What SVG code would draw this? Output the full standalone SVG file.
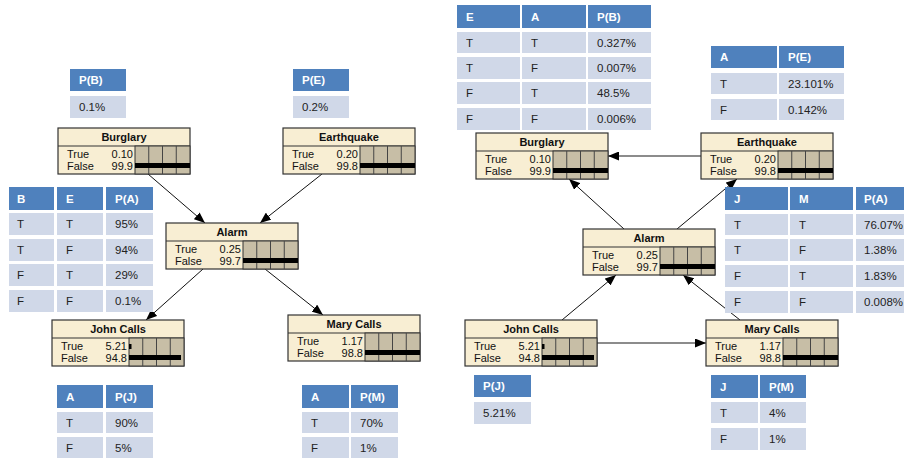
<svg xmlns="http://www.w3.org/2000/svg" width="904" height="459" viewBox="0 0 904 459">
  <style>
    .nb { fill: #F8EED3; stroke: #333; stroke-width: 1.2; }
    .sep { stroke: #333; stroke-width: 1; }
    .bar { fill: #C7BEA6; stroke: #333; stroke-width: 1; }
    .grid { stroke: #444; stroke-width: 1; }
    .fill { fill: #000; }
    .nt { font-family: "Liberation Sans", Arial, sans-serif; font-size: 11px; font-weight: bold; fill: #111; text-anchor: middle; }
    .nl { font-family: "Liberation Sans", Arial, sans-serif; font-size: 11px; fill: #111; }
    .nv { font-family: "Liberation Sans", Arial, sans-serif; font-size: 11px; fill: #111; text-anchor: end; }
    .th { fill: #4F81BD; }
    .td { fill: #D0D8E8; }
    .tht { font-family: "Liberation Sans", Arial, sans-serif; font-size: 11.5px; font-weight: bold; fill: #fff; }
    .tdt { font-family: "Liberation Sans", Arial, sans-serif; font-size: 11.5px; fill: #222; }
    .edge { stroke: #111; stroke-width: 1; fill: none; marker-end: url(#arrow); }
    .edge-g { stroke: #666; stroke-width: 1.5; fill: none; marker-end: url(#arrow); }
  </style>
  <defs>
    <marker id="arrow" markerUnits="userSpaceOnUse" markerWidth="11" markerHeight="9" refX="11" refY="4.5" orient="auto">
      <path d="M0,0 L11,4.5 L0,9 z" fill="#000"/>
    </marker>
    <!-- node frame: title bar, label area and the four-cell bar area -->
    <g id="frame">
      <rect class="nb" x="0" y="0" width="132" height="46"/>
      <line class="sep" x1="0" y1="18" x2="132" y2="18"/>
      <rect class="bar" x="77" y="18" width="55" height="28"/>
      <line class="grid" x1="90.75" y1="18" x2="90.75" y2="46"/>
      <line class="grid" x1="104.5" y1="18" x2="104.5" y2="46"/>
      <line class="grid" x1="118.25" y1="18" x2="118.25" y2="46"/>
      <text class="nl" x="9" y="30">True</text>
      <text class="nl" x="9" y="42">False</text>
    </g>
  </defs>

  <!-- connectors -->
  <g id="connectors">
    <line class="edge" x1="148" y1="174" x2="205" y2="223"/>
    <line class="edge" x1="322" y1="174" x2="260" y2="223"/>
    <line class="edge" x1="203" y1="269" x2="146" y2="320"/>
    <line class="edge" x1="265" y1="269" x2="323" y2="315"/>
    <line class="edge-g" x1="701" y1="156" x2="608" y2="156"/>
    <line class="edge" x1="624" y1="229" x2="569" y2="179"/>
    <line class="edge" x1="677" y1="229" x2="737" y2="179"/>
    <line class="edge" x1="562" y1="320" x2="616" y2="275"/>
    <line class="edge" x1="740" y1="320" x2="683" y2="275"/>
    <line class="edge-g" x1="597" y1="343" x2="706" y2="343"/>
  </g>

  <!-- left network -->
  <g id="burglary-l" transform="translate(58,128)">
    <use href="#frame"/>
    <text class="nt" x="66" y="13">Burglary</text>
    <text class="nv" x="75" y="30">0.10</text>
    <text class="nv" x="75" y="42">99.9</text>
    <rect class="fill" x="77" y="35" width="55" height="5"/>
  </g>
  <g id="earthquake-l" transform="translate(283,128)">
    <use href="#frame"/>
    <text class="nt" x="66" y="13">Earthquake</text>
    <text class="nv" x="75" y="30">0.20</text>
    <text class="nv" x="75" y="42">99.8</text>
    <rect class="fill" x="77" y="35" width="55" height="5"/>
  </g>
  <g id="alarm-l" transform="translate(166,223)">
    <use href="#frame"/>
    <text class="nt" x="66" y="13">Alarm</text>
    <text class="nv" x="75" y="30">0.25</text>
    <text class="nv" x="75" y="42">99.7</text>
    <rect class="fill" x="77" y="35" width="55" height="5"/>
  </g>
  <g id="john-l" transform="translate(52,320)">
    <use href="#frame"/>
    <text class="nt" x="66" y="13">John Calls</text>
    <text class="nv" x="75" y="30">5.21</text>
    <text class="nv" x="75" y="42">94.8</text>
    <rect class="fill" x="77" y="24" width="2.5" height="5"/>
    <rect class="fill" x="77" y="35" width="52" height="5"/>
  </g>
  <g id="mary-l" transform="translate(288,315)">
    <use href="#frame"/>
    <text class="nt" x="66" y="13">Mary Calls</text>
    <text class="nv" x="75" y="30">1.17</text>
    <text class="nv" x="75" y="42">98.8</text>
    <rect class="fill" x="77" y="35" width="55" height="5"/>
  </g>

  <!-- left tables -->
  <g id="table-pb-l">
    <rect class="th" x="70" y="69" width="56" height="22"/>
    <rect class="td" x="70" y="96" width="56" height="22"/>
    <text class="tht" x="79" y="84">P(B)</text>
    <text class="tdt" x="79" y="111">0.1%</text>
  </g>
  <g id="table-pe-l">
    <rect class="th" x="293" y="69" width="56" height="22"/>
    <rect class="td" x="293" y="96" width="56" height="22"/>
    <text class="tht" x="302" y="84">P(E)</text>
    <text class="tdt" x="302" y="111">0.2%</text>
  </g>
  <g id="table-pa-l">
    <rect class="th" x="9" y="187" width="45" height="23"/>
    <rect class="th" x="57" y="187" width="46" height="23"/>
    <rect class="th" x="106" y="187" width="47" height="23"/>
    <text class="tht" x="17" y="203">B</text>
    <text class="tht" x="66" y="203">E</text>
    <text class="tht" x="115" y="203">P(A)</text>
    <rect class="td" x="9" y="213" width="45" height="22"/>
    <rect class="td" x="57" y="213" width="46" height="22"/>
    <rect class="td" x="106" y="213" width="47" height="22"/>
    <text class="tdt" x="17" y="228">T</text>
    <text class="tdt" x="66" y="228">T</text>
    <text class="tdt" x="115" y="228">95%</text>
    <rect class="td" x="9" y="239" width="45" height="22"/>
    <rect class="td" x="57" y="239" width="46" height="22"/>
    <rect class="td" x="106" y="239" width="47" height="22"/>
    <text class="tdt" x="17" y="254">T</text>
    <text class="tdt" x="66" y="254">F</text>
    <text class="tdt" x="115" y="254">94%</text>
    <rect class="td" x="9" y="264" width="45" height="22"/>
    <rect class="td" x="57" y="264" width="46" height="22"/>
    <rect class="td" x="106" y="264" width="47" height="22"/>
    <text class="tdt" x="17" y="279">F</text>
    <text class="tdt" x="66" y="279">T</text>
    <text class="tdt" x="115" y="279">29%</text>
    <rect class="td" x="9" y="290" width="45" height="22"/>
    <rect class="td" x="57" y="290" width="46" height="22"/>
    <rect class="td" x="106" y="290" width="47" height="22"/>
    <text class="tdt" x="17" y="305">F</text>
    <text class="tdt" x="66" y="305">F</text>
    <text class="tdt" x="115" y="305">0.1%</text>
  </g>
  <g id="table-pj-l">
    <rect class="th" x="57" y="385" width="46" height="23"/>
    <rect class="th" x="106" y="385" width="47" height="23"/>
    <text class="tht" x="66" y="401">A</text>
    <text class="tht" x="115" y="401">P(J)</text>
    <rect class="td" x="57" y="412" width="46" height="21"/>
    <rect class="td" x="106" y="412" width="47" height="21"/>
    <text class="tdt" x="66" y="427">T</text>
    <text class="tdt" x="115" y="427">90%</text>
    <rect class="td" x="57" y="437" width="46" height="21"/>
    <rect class="td" x="106" y="437" width="47" height="21"/>
    <text class="tdt" x="66" y="452">F</text>
    <text class="tdt" x="115" y="452">5%</text>
  </g>
  <g id="table-pm-l">
    <rect class="th" x="302" y="385" width="47" height="23"/>
    <rect class="th" x="351" y="385" width="47" height="23"/>
    <text class="tht" x="311" y="401">A</text>
    <text class="tht" x="360" y="401">P(M)</text>
    <rect class="td" x="302" y="412" width="47" height="21"/>
    <rect class="td" x="351" y="412" width="47" height="21"/>
    <text class="tdt" x="311" y="427">T</text>
    <text class="tdt" x="360" y="427">70%</text>
    <rect class="td" x="302" y="437" width="47" height="21"/>
    <rect class="td" x="351" y="437" width="47" height="21"/>
    <text class="tdt" x="311" y="452">F</text>
    <text class="tdt" x="360" y="452">1%</text>
  </g>

  <!-- right network -->
  <g id="burglary-r" transform="translate(476,133)">
    <use href="#frame"/>
    <text class="nt" x="66" y="13">Burglary</text>
    <text class="nv" x="75" y="30">0.10</text>
    <text class="nv" x="75" y="42">99.9</text>
    <rect class="fill" x="77" y="35" width="55" height="5"/>
  </g>
  <g id="earthquake-r" transform="translate(701,133)">
    <use href="#frame"/>
    <text class="nt" x="66" y="13">Earthquake</text>
    <text class="nv" x="75" y="30">0.20</text>
    <text class="nv" x="75" y="42">99.8</text>
    <rect class="fill" x="77" y="35" width="55" height="5"/>
  </g>
  <g id="alarm-r" transform="translate(583,229)">
    <use href="#frame"/>
    <text class="nt" x="66" y="13">Alarm</text>
    <text class="nv" x="75" y="30">0.25</text>
    <text class="nv" x="75" y="42">99.7</text>
    <rect class="fill" x="77" y="35" width="55" height="5"/>
  </g>
  <g id="john-r" transform="translate(465,320)">
    <use href="#frame"/>
    <text class="nt" x="66" y="13">John Calls</text>
    <text class="nv" x="75" y="30">5.21</text>
    <text class="nv" x="75" y="42">94.8</text>
    <rect class="fill" x="77" y="24" width="2.5" height="5"/>
    <rect class="fill" x="77" y="35" width="52" height="5"/>
  </g>
  <g id="mary-r" transform="translate(706,320)">
    <use href="#frame"/>
    <text class="nt" x="66" y="13">Mary Calls</text>
    <text class="nv" x="75" y="30">1.17</text>
    <text class="nv" x="75" y="42">98.8</text>
    <rect class="fill" x="77" y="35" width="55" height="5"/>
  </g>

  <!-- right tables -->
  <g id="table-pb-r">
    <rect class="th" x="457" y="5" width="63" height="23"/>
    <rect class="th" x="522" y="5" width="64" height="23"/>
    <rect class="th" x="588" y="5" width="63" height="23"/>
    <text class="tht" x="466" y="21">E</text>
    <text class="tht" x="531" y="21">A</text>
    <text class="tht" x="597" y="21">P(B)</text>
    <rect class="td" x="457" y="32" width="63" height="21"/>
    <rect class="td" x="522" y="32" width="64" height="21"/>
    <rect class="td" x="588" y="32" width="63" height="21"/>
    <text class="tdt" x="466" y="47">T</text>
    <text class="tdt" x="531" y="47">T</text>
    <text class="tdt" x="597" y="47">0.327%</text>
    <rect class="td" x="457" y="57" width="63" height="22"/>
    <rect class="td" x="522" y="57" width="64" height="22"/>
    <rect class="td" x="588" y="57" width="63" height="22"/>
    <text class="tdt" x="466" y="72">T</text>
    <text class="tdt" x="531" y="72">F</text>
    <text class="tdt" x="597" y="72">0.007%</text>
    <rect class="td" x="457" y="82" width="63" height="22"/>
    <rect class="td" x="522" y="82" width="64" height="22"/>
    <rect class="td" x="588" y="82" width="63" height="22"/>
    <text class="tdt" x="466" y="97">F</text>
    <text class="tdt" x="531" y="97">T</text>
    <text class="tdt" x="597" y="97">48.5%</text>
    <rect class="td" x="457" y="108" width="63" height="22"/>
    <rect class="td" x="522" y="108" width="64" height="22"/>
    <rect class="td" x="588" y="108" width="63" height="22"/>
    <text class="tdt" x="466" y="123">F</text>
    <text class="tdt" x="531" y="123">F</text>
    <text class="tdt" x="597" y="123">0.006%</text>
  </g>
  <g id="table-pe-r">
    <rect class="th" x="711" y="46" width="66" height="22"/>
    <rect class="th" x="779" y="46" width="65" height="22"/>
    <text class="tht" x="720" y="61">A</text>
    <text class="tht" x="788" y="61">P(E)</text>
    <rect class="td" x="711" y="73" width="66" height="21"/>
    <rect class="td" x="779" y="73" width="65" height="21"/>
    <text class="tdt" x="720" y="88">T</text>
    <text class="tdt" x="788" y="88">23.101%</text>
    <rect class="td" x="711" y="99" width="66" height="21"/>
    <rect class="td" x="779" y="99" width="65" height="21"/>
    <text class="tdt" x="720" y="114">F</text>
    <text class="tdt" x="788" y="114">0.142%</text>
  </g>
  <g id="table-pa-r">
    <rect class="th" x="725" y="187" width="63" height="23"/>
    <rect class="th" x="790" y="187" width="63" height="23"/>
    <rect class="th" x="856" y="187" width="63" height="23"/>
    <text class="tht" x="734" y="203">J</text>
    <text class="tht" x="799" y="203">M</text>
    <text class="tht" x="864" y="203">P(A)</text>
    <rect class="td" x="725" y="214" width="63" height="21"/>
    <rect class="td" x="790" y="214" width="63" height="21"/>
    <rect class="td" x="856" y="214" width="63" height="21"/>
    <text class="tdt" x="734" y="229">T</text>
    <text class="tdt" x="799" y="229">T</text>
    <text class="tdt" x="864" y="229">76.07%</text>
    <rect class="td" x="725" y="239" width="63" height="22"/>
    <rect class="td" x="790" y="239" width="63" height="22"/>
    <rect class="td" x="856" y="239" width="63" height="22"/>
    <text class="tdt" x="734" y="254">T</text>
    <text class="tdt" x="799" y="254">F</text>
    <text class="tdt" x="864" y="254">1.38%</text>
    <rect class="td" x="725" y="265" width="63" height="22"/>
    <rect class="td" x="790" y="265" width="63" height="22"/>
    <rect class="td" x="856" y="265" width="63" height="22"/>
    <text class="tdt" x="734" y="280">F</text>
    <text class="tdt" x="799" y="280">T</text>
    <text class="tdt" x="864" y="280">1.83%</text>
    <rect class="td" x="725" y="291" width="63" height="22"/>
    <rect class="td" x="790" y="291" width="63" height="22"/>
    <rect class="td" x="856" y="291" width="63" height="22"/>
    <text class="tdt" x="734" y="306">F</text>
    <text class="tdt" x="799" y="306">F</text>
    <text class="tdt" x="864" y="306">0.008%</text>
  </g>
  <g id="table-pj-r">
    <rect class="th" x="474" y="375" width="57" height="22"/>
    <rect class="td" x="474" y="402" width="57" height="22"/>
    <text class="tht" x="483" y="390">P(J)</text>
    <text class="tdt" x="483" y="417">5.21%</text>
  </g>
  <g id="table-pm-r">
    <rect class="th" x="711" y="375" width="47" height="23"/>
    <rect class="th" x="760" y="375" width="46" height="23"/>
    <text class="tht" x="720" y="391">J</text>
    <text class="tht" x="769" y="391">P(M)</text>
    <rect class="td" x="711" y="402" width="47" height="21"/>
    <rect class="td" x="760" y="402" width="46" height="21"/>
    <text class="tdt" x="720" y="417">T</text>
    <text class="tdt" x="769" y="417">4%</text>
    <rect class="td" x="711" y="428" width="47" height="22"/>
    <rect class="td" x="760" y="428" width="46" height="22"/>
    <text class="tdt" x="720" y="443">F</text>
    <text class="tdt" x="769" y="443">1%</text>
  </g>
</svg>
